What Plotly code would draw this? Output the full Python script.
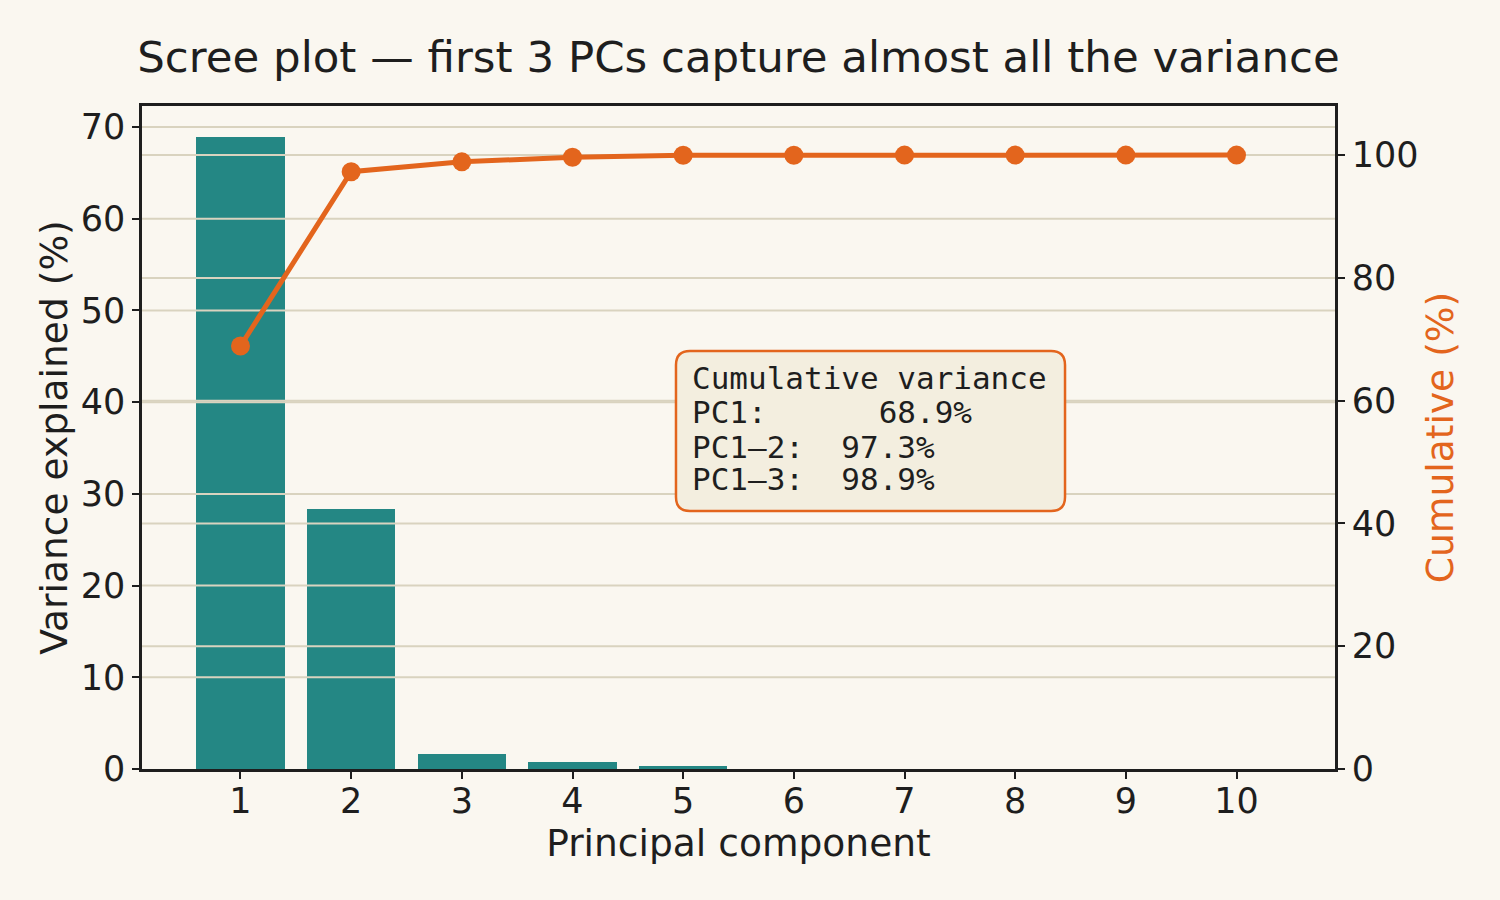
import plotly.graph_objects as go

# ---- data ----
PCS = [1, 2, 3, 4, 5, 6, 7, 8, 9, 10]
VARIANCE = [68.9, 28.4, 1.6, 0.76, 0.33, 0.0, 0.0, 0.0, 0.0, 0.0]
CUMULATIVE = [68.9, 97.3, 98.9, 99.66, 99.99, 99.99, 100.0, 100.0, 100.0, 100.0]
LEFT_TICKS = [0, 10, 20, 30, 40, 50, 60, 70]
RIGHT_TICKS = [0, 20, 40, 60, 80, 100]
BOX_LABELS = ["PC1:", "PC1\u20132:", "PC1\u20133:"]
BOX_PAD = [6, 2, 2]

X_RANGE = [0.11, 10.89]
Y_RANGE = [0, 72.3]
Y2_RANGE = [0, 108]

TEAL = "#248784"
ORANGE = "#E3651D"
BG = "#FAF7F0"
GRID = "#D9D3BF"
INK = "#1E1E1E"
FONT = "DejaVu Sans"
MONO = "DejaVu Sans Mono"

fig = go.Figure()

fig.add_trace(go.Bar(x=PCS, y=VARIANCE, width=0.8, marker=dict(color=TEAL, line=dict(width=0)),
                     hoverinfo="skip", yaxis="y"))

# gridlines drawn above bars (as in the reference)
gx, gy = [], []
for t in LEFT_TICKS[1:]:
    gx += [X_RANGE[0], X_RANGE[1], None]
    gy += [t, t, None]
fig.add_trace(go.Scatter(x=gx, y=gy, mode="lines", line=dict(color=GRID, width=2),
                         hoverinfo="skip", yaxis="y"))
gx2, gy2 = [], []
for t in RIGHT_TICKS[1:]:
    gx2 += [X_RANGE[0], X_RANGE[1], None]
    gy2 += [t, t, None]
fig.add_trace(go.Scatter(x=gx2, y=gy2, mode="lines", line=dict(color=GRID, width=2),
                         hoverinfo="skip", yaxis="y2"))

fig.add_trace(go.Scatter(x=PCS, y=CUMULATIVE, mode="lines+markers", yaxis="y2",
                         line=dict(color=ORANGE, width=5),
                         marker=dict(color=ORANGE, size=19, line=dict(width=0)),
                         hoverinfo="skip", cliponaxis=False))

# annotation box (rounded rectangle in paper coords)
x0, x1, y0, y1 = 0.4476, 0.7737, 0.3891, 0.6305
rx, ry = 14 / 1193, 14 / 663
path = (f"M {x0+rx},{y1} L {x1-rx},{y1} Q {x1},{y1} {x1},{y1-ry} "
        f"L {x1},{y0+ry} Q {x1},{y0} {x1-rx},{y0} L {x0+rx},{y0} "
        f"Q {x0},{y0} {x0},{y0+ry} L {x0},{y1-ry} Q {x0},{y1} {x0+rx},{y1} Z")
fig.add_shape(type="path", path=path, xref="paper", yref="paper",
              fillcolor="#F3EEDF", line=dict(color=ORANGE, width=2.5), layer="above")

lines = ["Cumulative\u00a0variance"]
for lab, pad, v in zip(BOX_LABELS, BOX_PAD, CUMULATIVE[:3]):
    lines.append(lab + "\u00a0" * pad + f"{v:.1f}%")
line_px = [378, 412, 447, 479]
for txt, py in zip(lines, line_px):
    fig.add_annotation(text=txt, xref="paper", yref="paper",
                       x=(690 - 142) / 1193, y=(769 - py) / 663,
                       xanchor="left", yanchor="middle", showarrow=False,
                       font=dict(family=MONO, size=31, color=INK), align="left")

axis_common = dict(showgrid=False, zeroline=False, showline=True, linecolor=INK, linewidth=2.5,
                   ticks="outside", ticklen=7, tickwidth=2, tickcolor=INK,
                   tickfont=dict(family=FONT, size=35, color=INK))

fig.update_layout(
    width=1500, height=900,
    margin=dict(l=142, r=165, t=106, b=131, autoexpand=False),
    paper_bgcolor=BG, plot_bgcolor=BG,
    showlegend=False,
    title=dict(text="Scree plot \u2014 first 3 PCs capture almost all the variance",
               x=0.5, xref="paper", xanchor="center", y=1 - 57 / 900, yref="container",
               yanchor="middle", font=dict(family=FONT, size=43.5, color=INK)),
    xaxis=dict(range=X_RANGE, tickvals=PCS, mirror=True, ticklabelstandoff=-8,
               title=dict(text="Principal component", font=dict(family=FONT, size=37.6, color=INK),
                          standoff=2),
               **axis_common),
    yaxis=dict(range=Y_RANGE, tickvals=LEFT_TICKS,
               title=dict(text="Variance explained (%)", font=dict(family=FONT, size=37.6, color=INK),
                          standoff=2),
               **axis_common),
    yaxis2=dict(range=Y2_RANGE, tickvals=RIGHT_TICKS, overlaying="y", side="right",
                title=dict(text="Cumulative (%)", font=dict(family=FONT, size=37.6, color=ORANGE),
                           standoff=10),
                **axis_common),
    bargap=0,
)

fig.write_html("out.html")
